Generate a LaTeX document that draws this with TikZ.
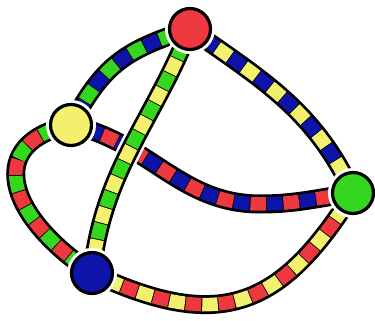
\documentclass[tikz,border=0pt]{standalone}
\usepackage{tikz}
\usetikzlibrary{backgrounds}

\definecolor{cred}{RGB}{236,56,62}
\definecolor{cyellow}{RGB}{242,240,108}
\definecolor{cgreen}{RGB}{52,214,30}
\definecolor{cblue}{RGB}{14,20,170}

\begin{document}
\begin{tikzpicture}[x=1pt,y=1pt,
  vertex/.style={circle,minimum size=41pt,inner sep=0pt,line width=3.2pt,draw=black,fill=#1,
    preaction={draw=white,line width=9pt}},
  band/.style 2 args={line width=13.5pt,draw=#1,dash pattern=on 15.5pt off 17.5pt,
    preaction={draw=white,line width=24pt,solid},
    preaction={draw=black,line width=19pt,solid},
    postaction={draw=#2,line width=13.5pt,dash pattern=on 15.5pt off 17.5pt,dash phase=16.5pt}}]
\useasboundingbox (0,0) rectangle (375,321);

% Vertices
\node[vertex=cred] (r) at (190,292) {};
\node[vertex=cyellow] (y) at (71,196) {};
\node[vertex=cgreen] (g) at (353,128) {};
\node[vertex=cblue] (b) at (92,48) {};

% Edges, striped in the colours of the other two vertices
\begin{pgfonlayer}{background}
\draw[band={cblue}{cgreen}] (r.center) to[out=198,in=62,looseness=1.15] (y.center);
\draw[band={cyellow}{cblue}] (r.center) to[out=-35,in=115] (g.center);
\draw[band={cred}{cgreen}] (y.center) .. controls (-15,179) and (5,106) .. (b.center);
\draw[band={cred}{cyellow}] (b.center) to[out=-25,in=238,looseness=1.3] (g.center);
\draw[band={cred}{cblue}] (y.center) to[out=-12,in=180] (260,117) to[out=0,in=188] (g.center);
\draw[band={cyellow}{cgreen}] (r.center) to[out=248,in=84] (b.center);
\end{pgfonlayer}
\end{tikzpicture}
\end{document}
